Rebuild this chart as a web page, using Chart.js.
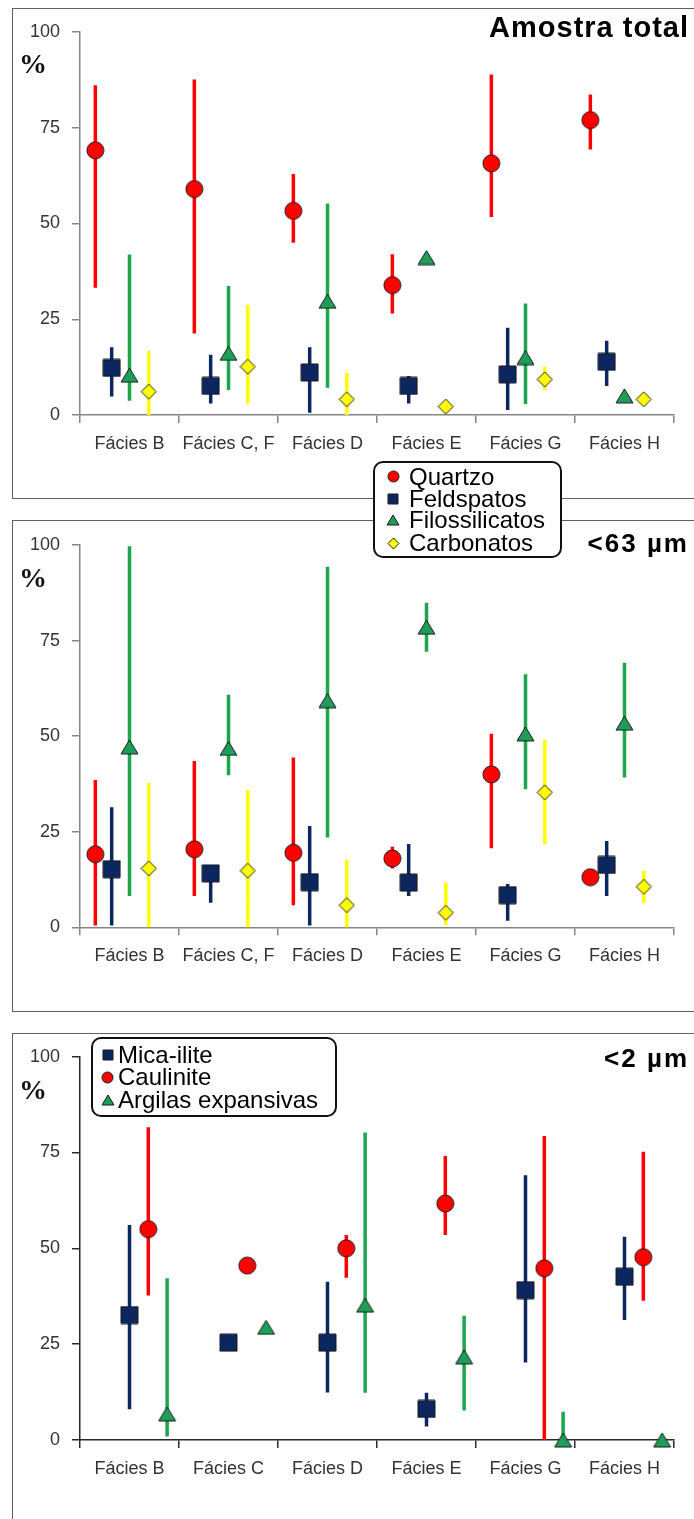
<!DOCTYPE html>
<html><head><meta charset="utf-8">
<script src="https://cdn.jsdelivr.net/npm/chart.js@4.4.1/dist/chart.umd.min.js"></script>
<style>
html,body{margin:0;padding:0;background:#fff;}
body{width:694px;height:1519px;position:relative;overflow:hidden;font-family:'Liberation Sans',Arial,sans-serif;}
.panel{position:absolute;left:12px;width:700px;border:1.5px solid #5f5f5f;box-sizing:border-box;background:#fff;z-index:0;}
canvas.chart{position:absolute;left:0;z-index:2;}
.pct{position:absolute;left:19px;font:bold 28px 'Liberation Serif',serif;color:#111;line-height:28px;z-index:3;}
.title{position:absolute;right:5px;font-weight:bold;color:#000;white-space:nowrap;z-index:3;}
.legend{position:absolute;background:#fff;border:2px solid #111;border-radius:10px;box-sizing:border-box;z-index:5;}
.legend .row{position:absolute;height:22px;line-height:22px;font-size:24px;color:#000;white-space:nowrap;}
.legend canvas{position:absolute;}
</style></head><body>
<div class="panel" style="top:8px;height:491px;"></div>
<div class="panel" style="top:520px;height:492px;"></div>
<div class="panel" style="top:1033px;height:500px;"></div>

<canvas id="c1" class="chart" width="694" height="500" style="top:0px"></canvas>
<canvas id="c2" class="chart" width="694" height="520" style="top:500px"></canvas>
<canvas id="c3" class="chart" width="694" height="499" style="top:1020px"></canvas>

<div class="pct" style="top:50px">%</div>
<div class="pct" style="top:564px">%</div>
<div class="pct" style="top:1076px">%</div>

<div class="title" style="top:13px;font-size:29px;line-height:29px;letter-spacing:1px;">Amostra total</div>
<div class="title" style="top:530px;font-size:26px;line-height:26px;letter-spacing:2px;">&lt;63 µm</div>
<div class="title" style="top:1045px;font-size:26px;line-height:26px;letter-spacing:2px;">&lt;2 µm</div>

<div id="leg1" class="legend" style="left:373px;top:461px;width:189px;height:97px;"></div>
<div id="leg3" class="legend" style="left:91px;top:1037px;width:246px;height:80px;"></div>

<script>
// ---------- categories ----------
const categoriesTotal = ['Fácies B', 'Fácies C, F', 'Fácies D', 'Fácies E', 'Fácies G', 'Fácies H'];
const categories63 = ['Fácies B', 'Fácies C, F', 'Fácies D', 'Fácies E', 'Fácies G', 'Fácies H'];
const categoriesClay = ['Fácies B', 'Fácies C', 'Fácies D', 'Fácies E', 'Fácies G', 'Fácies H'];
const yTicks = [0, 25, 50, 75, 100];

const seriesMinerals = ['Quartzo', 'Feldspatos', 'Filossilicatos', 'Carbonatos'];
const seriesClay = ['Mica-ilite', 'Caulinite', 'Argilas expansivas'];

// ---------- Amostra total ----------
const quartzoTotalMean = [69.1, 59.0, 53.3, 33.9, 65.7, 77.0];
const quartzoTotalMin  = [33.2, 21.3, 45.0, 26.5, 51.7, 69.3];
const quartzoTotalMax  = [86.1, 87.6, 62.9, 42.0, 88.9, 83.7];
const feldTotalMean = [12.3, 7.6, 11.1, 7.6, 10.6, 13.9];
const feldTotalMin  = [4.8, 3.0, 0.6, 3.0, 1.3, 7.6];
const feldTotalMax  = [17.7, 15.7, 17.7, 10.2, 22.8, 19.4];
const filoTotalMean = [10.4, 16.1, 29.7, 41.1, 15.0, 5.0];
const filoTotalMin  = [3.7, 6.5, 7.1, null, 2.9, null];
const filoTotalMax  = [41.9, 33.7, 55.2, null, 29.1, null];
const carbTotalMean = [6.1, 12.6, 4.1, 2.2, 9.3, 4.1];
const carbTotalMin  = [0, 3.0, 0, null, 6.5, null];
const carbTotalMax  = [16.7, 28.7, 11.0, null, 12.6, null];

// ---------- <63 µm ----------
const quartzo63Mean = [19.1, 20.4, 19.5, 18.0, 40.0, 13.1];
const quartzo63Min  = [0.5, 8.2, 5.8, 15.4, 20.7, null];
const quartzo63Max  = [38.5, 43.5, 44.4, 21.1, 50.6, null];
const feld63Mean = [15.2, 14.1, 11.8, 11.7, 8.4, 16.3];
const feld63Min  = [0.5, 6.4, 0.5, 8.2, 1.7, 8.2];
const feld63Max  = [31.4, 15.0, 26.5, 21.8, 11.3, 22.6];
const filo63Mean = [47.2, 46.8, 59.3, 78.5, 50.6, 53.4];
const filo63Min  = [8.2, 39.8, 23.5, 72.1, 36.1, 39.2];
const filo63Max  = [99.7, 60.8, 94.3, 84.9, 66.2, 69.2];
const carb63Mean = [15.4, 14.8, 5.8, 3.8, 35.3, 10.6];
const carb63Min  = [0, 0, 0, 0.6, 21.8, 6.3];
const carb63Max  = [37.8, 35.9, 17.6, 11.7, 49.0, 14.8];

// ---------- <2 µm ----------
const mica2Mean = [32.6, 25.4, 25.4, 8.1, 39.1, 42.6];
const mica2Min  = [8.0, null, 12.4, 3.5, 20.2, 31.3];
const mica2Max  = [56.1, null, 41.3, 12.3, 69.1, 53.0];
const caul2Mean = [55.0, 45.5, 50.0, 61.7, 44.8, 47.7];
const caul2Min  = [37.7, null, 42.3, 53.5, 0, 36.3];
const caul2Max  = [81.6, null, 53.5, 74.1, 79.3, 75.2];
const arg2Mean = [6.8, 29.4, 35.2, 21.7, 0, 0];
const arg2Min  = [0.9, null, 12.3, 7.7, 0, null];
const arg2Max  = [42.2, null, 80.2, 32.4, 7.4, null];

// ---------- styles (not data) ----------
const STY = {
  'Quartzo':            {shape: 'circle',   fill: '#FF0000', bar: '#FF0000'},
  'Feldspatos':         {shape: 'square',   fill: '#0C2760', bar: '#0C2760'},
  'Filossilicatos':     {shape: 'triangle', fill: '#1E9E58', bar: '#1DA54F'},
  'Carbonatos':         {shape: 'diamond',  fill: '#FFFF00', bar: '#FFFF00'},
  'Mica-ilite':         {shape: 'square',   fill: '#0C2760', bar: '#0C2760'},
  'Caulinite':          {shape: 'circle',   fill: '#FF0000', bar: '#FF0000'},
  'Argilas expansivas': {shape: 'triangle', fill: '#1E9E58', bar: '#1DA54F'}
};
const SIZE = {circle: [17, 17], square: [17, 17], triangle: [17, 14], diamond: [15, 15]};
const LSIZE = {circle: [11, 11], square: [10, 10], triangle: [12, 10], diamond: [11, 11]};
const OFFS_MIN = [-0.345, -0.18, 0, 0.195];
const OFFS_CLAY = [0, 0.19, 0.38];
const FONT = "'Liberation Sans', Arial, sans-serif";

function markerCanvas(shape, fill, w, h) {
  const c = document.createElement('canvas');
  const W = Math.ceil(w + 2), H = Math.ceil(h + 2);
  c.width = W; c.height = H;
  const g = c.getContext('2d');
  g.fillStyle = fill; g.strokeStyle = '#1a1a1a'; g.lineWidth = 1;
  const cx = W / 2, cy = H / 2;
  g.beginPath();
  if (shape === 'circle') g.arc(cx, cy, w / 2, 0, Math.PI * 2);
  else if (shape === 'square') g.rect(cx - w / 2, cy - h / 2, w, h);
  else if (shape === 'triangle') { g.moveTo(cx, cy - h / 2); g.lineTo(cx + w / 2, cy + h / 2); g.lineTo(cx - w / 2, cy + h / 2); g.closePath(); }
  else { g.moveTo(cx, cy - h / 2); g.lineTo(cx + w / 2, cy); g.lineTo(cx, cy + h / 2); g.lineTo(cx - w / 2, cy); g.closePath(); }
  g.fill(); g.stroke();
  return c;
}

function buildChart(id, cats, names, means, mins, maxs, offs, pad, axisColor) {
  const datasets = [];
  names.forEach((name, si) => {
    const st = STY[name];
    const xs = cats.map((c, i) => i + 1 + offs[si]);
    const bars = [];
    mins[si].forEach((lo, i) => {
      const hi = maxs[si][i];
      if (lo !== null && hi !== null) bars.push({x: xs[i], y: lo}, {x: xs[i], y: hi}, {x: xs[i], y: null});
    });
    datasets.push({type: 'line', label: name + ' range', data: bars, borderColor: st.bar, borderWidth: 3.5,
      pointRadius: 0, fill: false, spanGaps: false, tension: 0, borderCapStyle: 'butt',
      xAxisID: 'xl', yAxisID: 'y', order: 2, clip: false});
  });
  names.forEach((name, si) => {
    const st = STY[name];
    const sz = SIZE[st.shape];
    const img = markerCanvas(st.shape, st.fill, sz[0], sz[1]);
    datasets.push({type: 'scatter', label: name,
      data: means[si].map((m, i) => ({x: i + 1 + offs[si], y: m})),
      pointStyle: img, pointRadius: 9, showLine: false,
      xAxisID: 'xl', yAxisID: 'y', order: 1 + (names.length - si) * 0.01, clip: false});
  });
  return new Chart(document.getElementById(id), {
    type: 'line',
    data: {labels: cats, datasets},
    options: {
      responsive: false, animation: false, events: [], devicePixelRatio: 1,
      layout: {padding: pad},
      plugins: {legend: {display: false}, tooltip: {enabled: false}},
      scales: {
        x: {type: 'category', position: 'bottom', offset: true,
          grid: {offset: true, drawOnChartArea: false, drawTicks: true, tickLength: 8, color: axisColor, lineWidth: 1.5},
          border: {display: true, color: axisColor, width: 1.5},
          ticks: {font: {family: FONT, size: 18}, color: '#333333', padding: 10, maxRotation: 0, autoSkip: false},
          afterFit: s => { s.height = 40; }},
        xl: {type: 'linear', display: false, min: 0.5, max: 6.5},
        y: {type: 'linear', position: 'left', min: yTicks[0], max: yTicks[yTicks.length - 1],
          afterBuildTicks: s => { s.ticks = yTicks.map(v => ({value: v})); },
          ticks: {font: {family: FONT, size: 18}, color: '#333333', padding: 12},
          grid: {drawOnChartArea: false, drawTicks: true, tickLength: 8, color: axisColor, lineWidth: 1.5},
          border: {display: true, color: axisColor, width: 1.5},
          afterFit: s => { s.width = 80; }}
      }
    }
  });
}

buildChart('c1', categoriesTotal, seriesMinerals,
  [quartzoTotalMean, feldTotalMean, filoTotalMean, carbTotalMean],
  [quartzoTotalMin, feldTotalMin, filoTotalMin, carbTotalMin],
  [quartzoTotalMax, feldTotalMax, filoTotalMax, carbTotalMax],
  OFFS_MIN, {top: 32, right: 20, bottom: 45, left: 0}, '#868686');

buildChart('c2', categories63, seriesMinerals,
  [quartzo63Mean, feld63Mean, filo63Mean, carb63Mean],
  [quartzo63Min, feld63Min, filo63Min, carb63Min],
  [quartzo63Max, feld63Max, filo63Max, carb63Max],
  OFFS_MIN, {top: 45, right: 20, bottom: 52.7, left: 0}, '#868686');

buildChart('c3', categoriesClay, seriesClay,
  [mica2Mean, caul2Mean, arg2Mean],
  [mica2Min, caul2Min, arg2Min],
  [mica2Max, caul2Max, arg2Max],
  OFFS_CLAY, {top: 36.7, right: 20, bottom: 39, left: 0}, '#2a2a2a');

function buildLegend(id, names, rowTops, textLeft, markX) {
  const box = document.getElementById(id);
  names.forEach((name, i) => {
    const st = STY[name];
    const s = LSIZE[st.shape];
    const m = markerCanvas(st.shape, st.fill, s[0], s[1]);
    m.style.left = (markX - m.width / 2) + 'px';
    m.style.top = (rowTops[i] + 11 - m.height / 2) + 'px';
    box.appendChild(m);
    const r = document.createElement('div');
    r.className = 'row';
    r.style.left = textLeft + 'px';
    r.style.top = rowTops[i] + 'px';
    r.textContent = name;
    box.appendChild(r);
  });
}
buildLegend('leg1', seriesMinerals, [2.7, 25, 45.8, 69], 34, 18);
buildLegend('leg3', seriesClay, [5, 27.3, 50], 25, 14.5);
</script>
</body></html>
